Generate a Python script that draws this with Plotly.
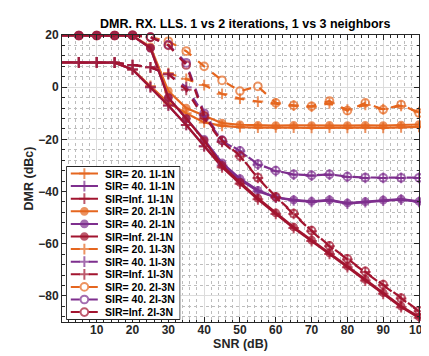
import plotly.graph_objects as go

snr = [0, 5, 10, 15, 20, 25, 30, 35, 40, 45, 50, 55, 60, 65, 70, 75, 80, 85, 90, 95, 100]

# SIR = 20
sir20_1i1n = [9.5, 9.5, 9.5, 9.4, 6.8, 0.5, -6.0, -10.0, -13.5, -14.8, -15.3, -15.5, -15.4, -15.5, -15.6, -15.5, -15.6, -15.5, -15.6, -15.4, -15.2]
sir20_2i1n = [19.8, 19.8, 19.8, 19.8, 19.7, 15.5, -1.5, -8.0, -11.0, -13.8, -14.4, -14.6, -14.7, -14.6, -14.7, -14.6, -14.7, -14.6, -14.7, -14.5, -14.3]
sir20_1i3n = [9.5, 9.5, 9.5, 9.4, 8.5, 7.6, 5.4, 3.2, 0.8, -2.6, -4.4, -5.5, -6.3, -7.1, -7.5, -6.2, -8.6, -6.8, -8.4, -7.2, -9.6]
sir20_2i3n = [19.8, 19.8, 19.8, 19.8, 19.9, 19.1, 17.6, 13.8, 8.0, 2.6, -1.5, 0.3, -6.0, -7.0, -7.3, -5.3, -9.0, -6.0, -8.6, -6.7, -9.9]

# SIR = 40
sir40_1i1n = [9.5, 9.5, 9.5, 9.4, 6.8, 0.0, -7.0, -14.5, -22.5, -30.0, -35.4, -39.9, -42.3, -43.4, -44.0, -43.4, -44.6, -44.1, -43.5, -43.1, -44.0]
sir40_2i1n = [19.8, 19.8, 19.8, 19.8, 19.7, 15.0, -4.0, -12.0, -20.0, -29.0, -35.0, -39.5, -42.2, -43.2, -43.8, -43.2, -44.4, -43.9, -43.3, -42.9, -43.8]
sir40_1i3n = [9.5, 9.5, 9.5, 9.4, 8.5, 7.6, 5.0, 0.0, -10.8, -20.7, -24.6, -29.7, -32.2, -33.5, -33.9, -33.5, -34.4, -34.8, -34.8, -34.8, -34.8]
sir40_2i3n = [19.8, 19.8, 19.8, 19.8, 19.9, 19.2, 16.3, 9.3, -10.0, -20.3, -24.4, -29.5, -32.0, -33.4, -33.8, -33.4, -34.3, -34.6, -34.7, -34.7, -34.7]

# SIR = Inf
sirinf_1i1n = [9.5, 9.5, 9.5, 9.4, 6.8, 0.0, -7.0, -14.5, -22.7, -30.7, -37.0, -43.0, -48.6, -54.0, -59.0, -63.9, -69.0, -74.1, -79.2, -84.3, -88.4]
sirinf_2i1n = [19.8, 19.8, 19.8, 19.8, 19.7, 15.0, -4.0, -12.0, -20.5, -30.0, -36.5, -42.5, -48.2, -53.6, -58.6, -63.5, -68.6, -73.7, -78.8, -83.9, -88.0]
sirinf_1i3n = [9.5, 9.5, 9.5, 9.4, 8.5, 7.6, 5.0, -1.0, -12.0, -21.0, -26.5, -34.8, -42.2, -48.6, -55.2, -61.0, -66.0, -70.8, -75.9, -81.0, -85.9]
sirinf_2i3n = [19.8, 19.8, 19.8, 19.8, 19.9, 19.2, 16.0, 8.5, -11.0, -20.5, -26.3, -34.6, -42.0, -48.4, -55.0, -60.8, -65.8, -70.6, -75.7, -80.8, -85.7]

x_ticks = [10, 20, 30, 40, 50, 60, 70, 80, 90, 100]
y_ticks = [-80, -60, -40, -20, 0, 20]

ORANGE = '#E5661F'
PURPLE = '#7E2F8E'
RED = '#A2142F'
FONT = 'Liberation Sans'

# (label, values, colour, dash, marker)
series = [
    ('SIR= 20. 1I-1N', sir20_1i1n, ORANGE, 'solid', 'plus'),
    ('SIR= 40. 1I-1N', sir40_1i1n, PURPLE, 'solid', 'plus'),
    ('SIR=Inf. 1I-1N', sirinf_1i1n, RED, 'solid', 'plus'),
    ('SIR= 20. 2I-1N', sir20_2i1n, ORANGE, 'solid', 'dot'),
    ('SIR= 40. 2I-1N', sir40_2i1n, PURPLE, 'solid', 'dot'),
    ('SIR=Inf. 2I-1N', sirinf_2i1n, RED, 'solid', 'dot'),
    ('SIR= 20. 1I-3N', sir20_1i3n, ORANGE, 'dash', 'plus'),
    ('SIR= 40. 1I-3N', sir40_1i3n, PURPLE, 'dash', 'plus'),
    ('SIR=Inf. 1I-3N', sirinf_1i3n, RED, 'dash', 'plus'),
    ('SIR= 20. 2I-3N', sir20_2i3n, ORANGE, 'dash', 'ring'),
    ('SIR= 40. 2I-3N', sir40_2i3n, PURPLE, 'dash', 'ring'),
    ('SIR=Inf. 2I-3N', sirinf_2i3n, RED, 'dash', 'ring'),
]


def marker_style(kind, color, sizes):
    if kind == 'plus':
        return dict(symbol='cross-thin', size=[s * 0.85 for s in sizes], color=color,
                    line=dict(color=color, width=2))
    if kind == 'dot':
        return dict(symbol='circle', size=[s * 0.8 for s in sizes], color=color,
                    line=dict(color=color, width=1.5))
    return dict(symbol='circle-open', size=[s * 0.85 for s in sizes], color=color,
                line=dict(color=color, width=2))


fig = go.Figure()

for label, vals, color, dash, kind in series:
    sizes = [0] + [9] * (len(snr) - 1)   # first point sits left of the axis
    fig.add_trace(go.Scatter(
        x=snr, y=vals, mode='lines+markers', name=label, showlegend=False,
        line=dict(color=color, width=2.2, dash=dash),
        marker=marker_style(kind, color, sizes),
        cliponaxis=False,
    ))

# legend drawn on its own small axes
LW, LH = 118, 154
fig.add_trace(go.Scatter(
    x=[0.5, LW - 0.5, LW - 0.5, 0.5, 0.5], y=[0.5, 0.5, LH - 0.5, LH - 0.5, 0.5],
    xaxis='x2', yaxis='y2', mode='lines', fill='toself', fillcolor='white',
    line=dict(color='#262626', width=1), showlegend=False, hoverinfo='skip',
))
annotations = []
for i, (label, vals, color, dash, kind) in enumerate(series):
    ry = 7.5 + 12.6 * i
    fig.add_trace(go.Scatter(
        x=[5, 19, 33], y=[ry, ry, ry], xaxis='x2', yaxis='y2',
        mode='lines+markers', showlegend=False, hoverinfo='skip',
        line=dict(color=color, width=2, dash=dash),
        marker=marker_style(kind, color, [0, 9, 0]),
    ))
    annotations.append(dict(
        x=38, y=ry, xref='x2', yref='y2', text=label, showarrow=False,
        xanchor='left', yanchor='middle',
        font=dict(family=FONT, size=10.5, color='black', weight='bold'),
    ))

axis_common = dict(
    showline=True, linecolor='#262626', linewidth=1, mirror='ticks',
    ticks='inside', ticklen=5, tickcolor='#262626', tickwidth=1,
    showgrid=True, gridcolor='#dcdcdc', gridwidth=1, zeroline=False,
    ticklabeloverflow='allow',
    tickfont=dict(family=FONT, size=12, color='#262626', weight='bold'),
)

fig.update_layout(
    width=429, height=356,
    margin=dict(l=54, r=8, t=27, b=42),
    paper_bgcolor='white', plot_bgcolor='white',
    title=dict(text='DMR. RX. LLS. 1 vs 2 iterations, 1 vs 3 neighbors',
               x=0.553, xanchor='center', y=0.957, yanchor='middle',
               font=dict(family=FONT, size=12.5, color='black', weight='bold')),
    xaxis=dict(
        range=[0.3, 100], tickvals=x_ticks, ticklabelstandoff=-3,
        minor=dict(dtick=2, showgrid=True, griddash='dot', gridcolor='#bdbdbd', gridwidth=1,
                   ticks='inside', ticklen=2.5, tickcolor='#262626'),
        title=dict(text='SNR (dB)', standoff=0,
                   font=dict(family=FONT, size=12.5, color='#262626', weight='bold')),
        **axis_common,
    ),
    yaxis=dict(
        range=[-90, 20], tickvals=y_ticks,
        minor=dict(dtick=4, showgrid=True, griddash='dot', gridcolor='#bdbdbd', gridwidth=1,
                   ticks='inside', ticklen=2.5, tickcolor='#262626'),
        title=dict(text='DMR (dBc)', standoff=1,
                   font=dict(family=FONT, size=12.5, color='#262626', weight='bold')),
        **axis_common,
    ),
    xaxis2=dict(domain=[0.011, 0.332], range=[0, LW], anchor='y2', visible=False, fixedrange=True),
    yaxis2=dict(domain=[0.007, 0.5435], range=[LH, 0], anchor='x2', visible=False, fixedrange=True),
    annotations=annotations,
)

fig.write_html('out.html')
